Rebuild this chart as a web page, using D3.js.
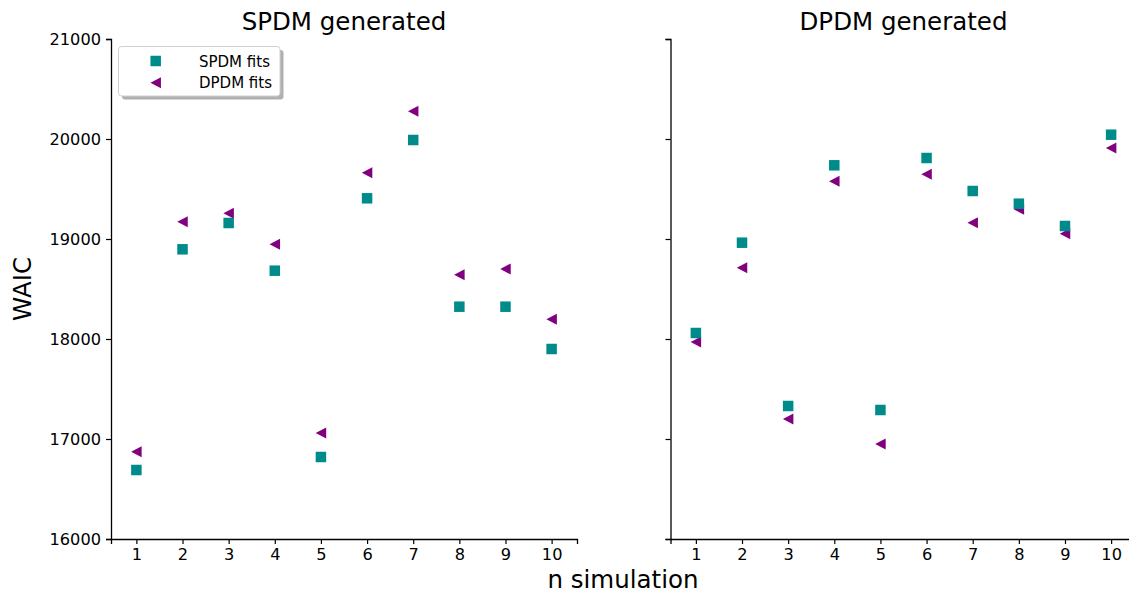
<!DOCTYPE html>
<html>
<head>
<meta charset="utf-8">
<script src="https://cdn.jsdelivr.net/npm/d3@7"></script>
<style>
  html, body { margin: 0; padding: 0; background: #fff; }
  svg { display: block; font-family: "DejaVu Sans", sans-serif; }
</style>
</head>
<body>
<svg id="chart" width="1129" height="596"></svg>
<script>
// Simulation index on the x axis
const simulations = [1, 2, 3, 4, 5, 6, 7, 8, 9, 10];

// WAIC for data generated by the SPDM
const spdmGenSpdmFit = [16690, 18897, 19160, 18683, 16820, 19407, 19990, 18323, 18323, 17900];
const spdmGenDpdmFit = [16873, 19173, 19257, 18947, 17060, 19663, 20277, 18643, 18700, 18197];

// WAIC for data generated by the DPDM
const dpdmGenSpdmFit = [18060, 18963, 17330, 19737, 17290, 19810, 19480, 19353, 19130, 20043];
const dpdmGenDpdmFit = [17970, 18713, 17200, 19577, 16950, 19647, 19163, 19297, 19053, 19910];

const yTicks = [16000, 17000, 18000, 19000, 20000, 21000];
const panelTitles = ["SPDM generated", "DPDM generated"];
const seriesNames = ["SPDM fits", "DPDM fits"];

const teal = "#008b8b";
const purple = "#800080";

const svg = d3.select("#chart");

const plotTop = 39, plotBottom = 539;
const y = d3.scaleLinear().domain([16000, 21000]).range([plotBottom, plotTop]);

const panels = [
  { title: panelTitles[0], left: 111, right: 577, spdm: spdmGenSpdmFit, dpdm: spdmGenDpdmFit, yLabels: true, legend: true },
  { title: panelTitles[1], left: 670.5, right: 1136.5, spdm: dpdmGenSpdmFit, dpdm: dpdmGenDpdmFit, yLabels: false, legend: false }
];

const squareSize = 10.5;
const tickFont = 16.2;
const labelFont = 24.5;

// left-pointing triangle centred on the origin
function triPath(s) {
  const h = s / 2;
  return `M${-h},0L${h},${-h * 1.05}L${h},${h * 1.05}Z`;
}

panels.forEach(p => {
  const x = d3.scaleLinear().domain([0.45, 10.55]).range([p.left, p.right]);
  const g = svg.append("g");

  // x axis
  const xAxis = d3.axisBottom(x).tickValues(simulations).tickFormat(d3.format("d")).tickSizeOuter(0).tickSize(5).tickPadding(4);
  const gx = g.append("g").attr("transform", `translate(0,${plotBottom})`).call(xAxis);
  gx.attr("font-family", "DejaVu Sans");
  gx.select(".domain").attr("stroke", "#000").attr("stroke-width", 1.3);
  gx.selectAll(".tick line").attr("stroke", "#000").attr("stroke-width", 1.2);
  gx.selectAll(".tick text").attr("font-size", tickFont).attr("fill", "#000");

  // y axis (the second panel shares it, so ticks only)
  const yAxis = d3.axisLeft(y).tickValues(yTicks).tickFormat(p.yLabels ? d3.format("d") : () => "").tickSizeOuter(0).tickSize(5).tickPadding(5);
  const gy = g.append("g").attr("transform", `translate(${p.left},0)`).call(yAxis);
  gy.attr("font-family", "DejaVu Sans");
  gy.select(".domain").attr("stroke", "#000").attr("stroke-width", 1.3);
  gy.selectAll(".tick line").attr("stroke", "#000").attr("stroke-width", 1.2);
  gy.selectAll(".tick text").attr("font-size", tickFont).attr("fill", "#000");

  // title
  g.append("text")
    .attr("x", (p.left + p.right) / 2)
    .attr("y", 30)
    .attr("text-anchor", "middle")
    .attr("font-size", labelFont)
    .text(p.title);

  // DPDM fits (triangles)
  g.selectAll("path.dpdm").data(p.dpdm).join("path")
    .attr("class", "dpdm")
    .attr("d", triPath(10.5))
    .attr("transform", (d, i) => `translate(${x(simulations[i])},${y(d)})`)
    .attr("fill", purple);

  // SPDM fits (squares)
  g.selectAll("rect.spdm").data(p.spdm).join("rect")
    .attr("class", "spdm")
    .attr("x", (d, i) => x(simulations[i]) - squareSize / 2)
    .attr("y", d => y(d) - squareSize / 2)
    .attr("width", squareSize)
    .attr("height", squareSize)
    .attr("fill", teal);

  if (p.legend) {
    const lg = svg.append("g");
    const bx = 118.5, by = 46.5, bw = 161.5, bh = 49.5;
    lg.append("rect").attr("x", bx + 3.5).attr("y", by + 3.5).attr("width", bw).attr("height", bh)
      .attr("rx", 3).attr("fill", "#b0b0b0");
    lg.append("rect").attr("x", bx).attr("y", by).attr("width", bw).attr("height", bh)
      .attr("rx", 3).attr("fill", "#fff").attr("stroke", "#d0d0d0").attr("stroke-width", 1);
    const rows = [61, 82.7];
    lg.append("rect").attr("x", 155.7 - squareSize / 2).attr("y", rows[0] - squareSize / 2)
      .attr("width", squareSize).attr("height", squareSize).attr("fill", teal);
    lg.append("path").attr("d", triPath(10.5)).attr("transform", `translate(155.7,${rows[1]})`).attr("fill", purple);
    seriesNames.forEach((name, i) => {
      lg.append("text").attr("x", 199).attr("y", rows[i] + 5.5).attr("font-size", 15).text(name);
    });
  }
});

// shared axis labels
svg.append("text")
  .attr("transform", "translate(31,289) rotate(-90)")
  .attr("text-anchor", "middle")
  .attr("font-size", labelFont)
  .text("WAIC");

svg.append("text")
  .attr("x", 623)
  .attr("y", 588)
  .attr("text-anchor", "middle")
  .attr("font-size", labelFont)
  .text("n simulation");
</script>
</body>
</html>
